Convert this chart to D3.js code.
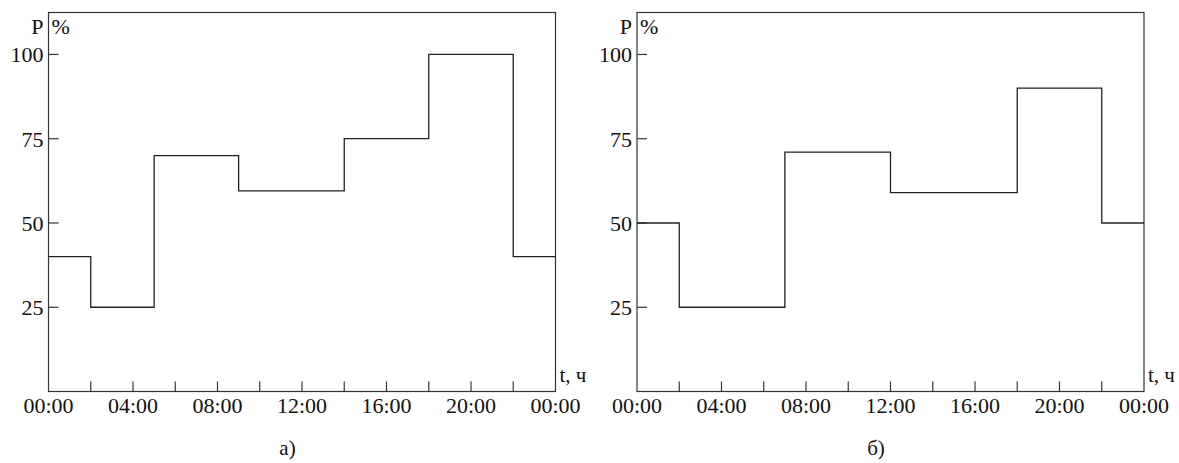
<!DOCTYPE html>
<html>
<head>
<meta charset="utf-8">
<script src="https://cdn.jsdelivr.net/npm/d3@7"></script>
<style>
  html, body { margin: 0; padding: 0; background: #fff; }
</style>
</head>
<body>
<svg id="chart" width="1179" height="463" font-family="'Liberation Serif', 'Times New Roman', Times, serif"></svg>
<script>
// ---- data ----
const hourTicks = [0, 2, 4, 6, 8, 10, 12, 14, 16, 18, 20, 22, 24];
const hourLabels = ["00:00", "04:00", "08:00", "12:00", "16:00", "20:00", "00:00"];
const labelHours = [0, 4, 8, 12, 16, 20, 24];
const yTicks = [25, 50, 75, 100];

// panel a): step boundaries (hours) and values (%) for each interval
const stepsA = [0, 2, 5, 9, 14, 18, 22, 24];
const valuesA = [40, 25, 70, 59.5, 75, 100, 40];

// panel б)
const stepsB = [0, 2, 7, 12, 18, 22, 24];
const valuesB = [50, 25, 71, 59, 90, 50];

const panelTitles = ["а)", "б)"];

// ---- drawing ----
const svg = d3.select("#chart");
const PW = 507, plotTop = 12.5, plotBottom = 391.5;
const FONT = "'Liberation Serif', 'Times New Roman', Times, serif";

function drawPanel(x0, steps, values, title) {
  const g = svg.append("g").attr("font-family", FONT).attr("fill", "#111");
  const x = d3.scaleLinear().domain([0, 24]).range([x0, x0 + PW]);
  const y = d3.scaleLinear().domain([0, 112.45]).range([plotBottom, plotTop]);

  // frame
  g.append("rect")
    .attr("x", x(0)).attr("y", y(112.45))
    .attr("width", x(24) - x(0)).attr("height", y(0) - y(112.45))
    .attr("fill", "none").attr("stroke", "#333").attr("stroke-width", 1.2);

  // x ticks (inward)
  g.selectAll(".xt").data(hourTicks.slice(1, -1)).enter().append("line")
    .attr("x1", d => x(d)).attr("x2", d => x(d))
    .attr("y1", y(0)).attr("y2", y(0) - 10)
    .attr("stroke", "#333").attr("stroke-width", 1.2);

  g.selectAll(".xl").data(labelHours).enter().append("text")
    .attr("x", d => x(d)).attr("y", 413)
    .attr("text-anchor", "middle").attr("font-size", 22)
    .text((d, i) => hourLabels[i]);

  // y ticks (inward)
  g.selectAll(".yt").data(yTicks).enter().append("line")
    .attr("x1", x(0)).attr("x2", x(0) + 10)
    .attr("y1", d => y(d)).attr("y2", d => y(d))
    .attr("stroke", "#333").attr("stroke-width", 1.2);

  g.selectAll(".yl").data(yTicks).enter().append("text")
    .attr("x", x(0) - 5).attr("y", d => y(d) + 8)
    .attr("text-anchor", "end").attr("font-size", 22)
    .text(d => d);

  // axis titles
  g.append("text").attr("x", x(0) - 5).attr("y", 34)
    .attr("text-anchor", "end").attr("font-size", 22).text("P");
  g.append("text").attr("x", x(0) + 3).attr("y", 34)
    .attr("font-size", 22).text("%");
  g.append("text").attr("x", x(24) + 4).attr("y", 382)
    .attr("font-size", 21).text("t, ч");

  // step line
  const pts = [];
  values.forEach((v, i) => {
    pts.push([steps[i], v]);
    pts.push([steps[i + 1], v]);
  });
  const line = d3.line().x(d => x(d[0])).y(d => y(d[1]));
  g.append("path").datum(pts)
    .attr("d", line)
    .attr("fill", "none").attr("stroke", "#222").attr("stroke-width", 1.3);

  // panel title
  g.append("text").attr("x", x(0) + 239).attr("y", 455)
    .attr("text-anchor", "middle").attr("font-size", 21).text(title);
}

drawPanel(48.5, stepsA, valuesA, panelTitles[0]);
drawPanel(637, stepsB, valuesB, panelTitles[1]);
</script>
</body>
</html>
